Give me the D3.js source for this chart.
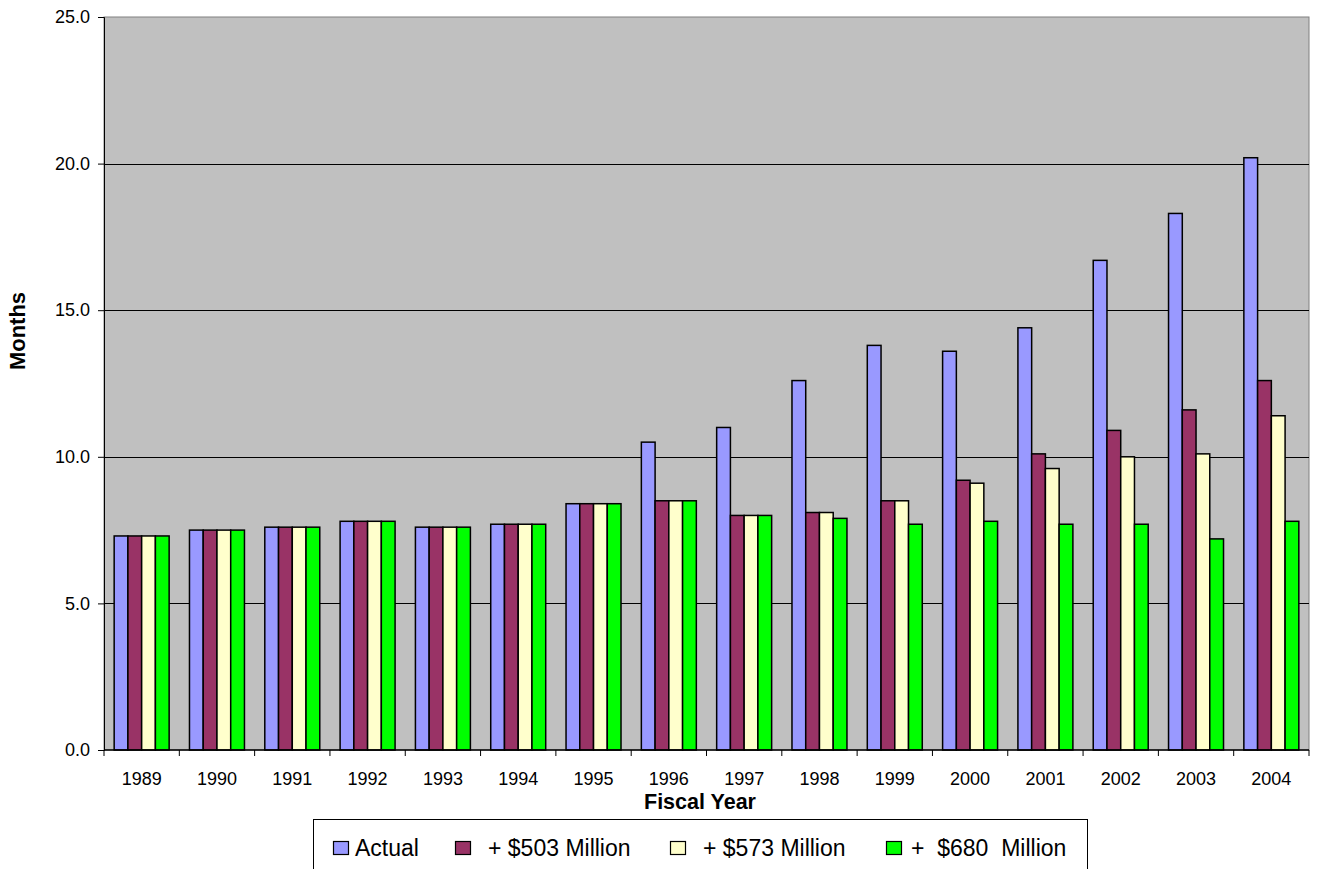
<!DOCTYPE html>
<html>
<head>
<meta charset="utf-8">
<script src="https://cdn.jsdelivr.net/npm/d3@7"></script>
<style>
  html, body { margin: 0; padding: 0; background: #fff; }
  svg { display: block; font-family: "Liberation Sans", Arial, sans-serif; }
</style>
</head>
<body>
<svg id="chart" width="1317" height="869"></svg>
<script>
// Fiscal years on the category axis
const years = ["1989","1990","1991","1992","1993","1994","1995","1996",
               "1997","1998","1999","2000","2001","2002","2003","2004"];

// Months of backlog per scenario
const actual   = [7.3, 7.5, 7.6, 7.8, 7.6, 7.7, 8.4, 10.5, 11.0, 12.6, 13.8, 13.6, 14.4, 16.7, 18.3, 20.2];
const plus503  = [7.3, 7.5, 7.6, 7.8, 7.6, 7.7, 8.4, 8.5, 8.0, 8.1, 8.5, 9.2, 10.1, 10.9, 11.6, 12.6];
const plus573  = [7.3, 7.5, 7.6, 7.8, 7.6, 7.7, 8.4, 8.5, 8.0, 8.1, 8.5, 9.1, 9.6, 10.0, 10.1, 11.4];
const plus680  = [7.3, 7.5, 7.6, 7.8, 7.6, 7.7, 8.4, 8.5, 8.0, 7.9, 7.7, 7.8, 7.7, 7.7, 7.2, 7.8];

const seriesNames = ["Actual", "+ $503 Million", "+ $573 Million", "+  $680  Million"];
const seriesColors = ["#9999FF", "#993366", "#FFFFCC", "#00FF00"];
const seriesValues = [actual, plus503, plus573, plus680];

const yTicks = [0, 5, 10, 15, 20, 25];

const svg = d3.select("#chart");
const plot = { left: 104, top: 17, right: 1309, bottom: 750 };

const x = d3.scaleBand().domain(years).range([plot.left, plot.right]).paddingInner(0.27).paddingOuter(0.135);
const xs = d3.scaleBand().domain(d3.range(seriesNames.length)).range([0, x.bandwidth()]);
const y = d3.scaleLinear().domain([0, 25]).range([plot.bottom, plot.top]);

// plot background
svg.append("rect")
  .attr("x", plot.left).attr("y", plot.top)
  .attr("width", plot.right - plot.left).attr("height", plot.bottom - plot.top)
  .attr("fill", "#C0C0C0").attr("stroke", "#808080").attr("stroke-width", 1);

// horizontal gridlines
svg.append("g").selectAll("line")
  .data(yTicks.filter(d => d > 0 && d < 25))
  .join("line")
  .attr("x1", plot.left).attr("x2", plot.right)
  .attr("y1", d => Math.round(y(d)) + 0.5).attr("y2", d => Math.round(y(d)) + 0.5)
  .attr("stroke", "#000").attr("stroke-width", 1);

// bars
const groups = svg.append("g").selectAll("g")
  .data(years)
  .join("g")
  .attr("transform", d => `translate(${x(d)},0)`);

groups.selectAll("rect")
  .data((yr, i) => seriesValues.map((vals, s) => ({ s, v: vals[i] })))
  .join("rect")
  .attr("x", d => xs(d.s))
  .attr("y", d => y(d.v))
  .attr("width", xs.bandwidth())
  .attr("height", d => y(0) - y(d.v))
  .attr("fill", d => seriesColors[d.s])
  .attr("stroke", "#000").attr("stroke-width", 1.5);

// y axis
const yAxis = d3.axisLeft(y).tickValues(yTicks).tickFormat(d3.format(".1f")).tickSize(6).tickPadding(8);
const gy = svg.append("g").attr("transform", `translate(${plot.left},0)`).call(yAxis);
gy.attr("font-size", null).attr("font-family", null);
gy.select(".domain").attr("stroke", "#000");
gy.selectAll(".tick line").attr("stroke", "#000");
gy.selectAll("text").attr("font-size", 18).attr("fill", "#000");

// x axis with ticks on category boundaries
const gx = svg.append("g").attr("transform", `translate(0,${plot.bottom})`);
gx.append("line").attr("x1", plot.left).attr("x2", plot.right).attr("y1", 0).attr("y2", 0)
  .attr("stroke", "#000").attr("stroke-width", 1.5);
const step = x.step();
gx.selectAll("line.tk")
  .data(d3.range(years.length + 1))
  .join("line").attr("class", "tk")
  .attr("x1", i => plot.left + i * step).attr("x2", i => plot.left + i * step)
  .attr("y1", 0).attr("y2", 6).attr("stroke", "#000");
gx.selectAll("text")
  .data(years)
  .join("text")
  .attr("x", d => x(d) + x.bandwidth() / 2)
  .attr("y", 35)
  .attr("text-anchor", "middle")
  .attr("font-size", 18)
  .text(d => d);

// axis titles
svg.append("text")
  .attr("x", 700).attr("y", 809)
  .attr("text-anchor", "middle")
  .attr("font-size", 21.5).attr("font-weight", "bold")
  .text("Fiscal Year");

svg.append("text")
  .attr("transform", "translate(25,331) rotate(-90)")
  .attr("text-anchor", "middle")
  .attr("font-size", 22).attr("font-weight", "bold")
  .text("Months");

// legend
const legend = svg.append("g");
legend.append("rect")
  .attr("x", 313.5).attr("y", 819.5).attr("width", 774).attr("height", 70)
  .attr("fill", "#fff").attr("stroke", "#000").attr("stroke-width", 1);

const legendX = [333, 455, 670, 886];
const textX = [355, 488, 703, 911];
seriesNames.forEach((name, i) => {
  legend.append("rect")
    .attr("x", legendX[i] + 0.5).attr("y", 841.5).attr("width", 15).attr("height", 13)
    .attr("fill", seriesColors[i]).attr("stroke", "#000").attr("stroke-width", 1.2);
  legend.append("text")
    .attr("x", textX[i]).attr("y", 856)
    .attr("font-size", 23)
    .attr("xml:space", "preserve")
    .style("white-space", "pre")
    .text(name);
});
</script>
</body>
</html>
